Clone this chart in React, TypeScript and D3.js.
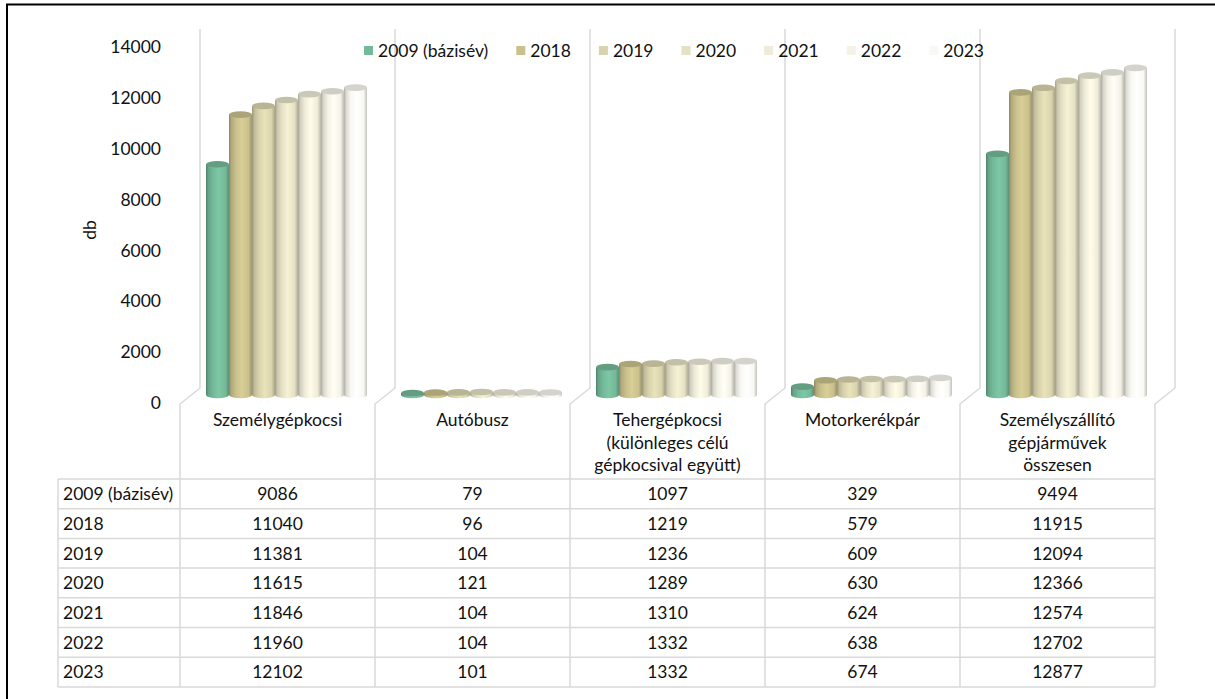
import React, { useEffect, useRef } from "react";
import * as d3 from "d3";

const categoryLabels: string[][] = [
  ["Személygépkocsi"],
  ["Autóbusz"],
  ["Tehergépkocsi", "(különleges célú", "gépkocsival együtt)"],
  ["Motorkerékpár"],
  ["Személyszállító", "gépjárművek", "összesen"],
];
const seriesNames = ["2009 (bázisév)", "2018", "2019", "2020", "2021", "2022", "2023"];
const v2009 = [9086, 79, 1097, 329, 9494];
const v2018 = [11040, 96, 1219, 579, 11915];
const v2019 = [11381, 104, 1236, 609, 12094];
const v2020 = [11615, 121, 1289, 630, 12366];
const v2021 = [11846, 104, 1310, 624, 12574];
const v2022 = [11960, 104, 1332, 638, 12702];
const v2023 = [12102, 101, 1332, 674, 12877];
const seriesValues = [v2009, v2018, v2019, v2020, v2021, v2022, v2023];
const seriesColors = ["#74b999", "#c9c08c", "#d9d3ad", "#e5e1c5", "#eeebd8", "#f4f2e6", "#f9f8f2"];
const yTicks = [0, 2000, 4000, 6000, 8000, 10000, 12000, 14000];
const yTitle = "db";

export default function App() {
  const ref = useRef<SVGSVGElement>(null);
  useEffect(() => {
    const svg = d3.select(ref.current!);
    svg.selectAll("*").remove();
    const W = 1215, H = 699;
    const font = "Lato, 'Open Sans', sans-serif";
    const fs = 17.5;
    const txt = "#111";
    const grid = "#d9d9d9";

    svg.append("rect").attr("width", W).attr("height", H).attr("fill", "#fff");
    svg.append("path").attr("d", `M7,${H} L7,4.5 L${W},4.5`).attr("stroke", "#000")
      .attr("stroke-width", 2).attr("fill", "none");

    const nCat = categoryLabels.length;
    const colX = d3.scaleBand<number>().domain(d3.range(nCat)).range([180, 1155]);
    const step = colX.step();
    const bounds = d3.range(nCat + 1).map((i) => 180 + i * step);
    const depth = 20, backFloorY = 388, frontFloorY = 404, wallTop = 29;
    const tableTop = 479, rowH = 29.7;
    const tableBottom = tableTop + rowH * seriesNames.length;

    bounds.forEach((fx) => {
      svg.append("path")
        .attr("d", `M${fx + depth},${wallTop} L${fx + depth},${backFloorY} L${fx},${frontFloorY} L${fx},${tableBottom}`)
        .attr("stroke", grid).attr("stroke-width", 1.5).attr("fill", "none");
    });

    for (let r = 0; r <= seriesNames.length; r++) {
      const y = tableTop + r * rowH;
      svg.append("line").attr("x1", 58).attr("x2", bounds[nCat]).attr("y1", y).attr("y2", y)
        .attr("stroke", grid).attr("stroke-width", 1.5);
    }
    svg.append("line").attr("x1", 58).attr("x2", 58).attr("y1", tableTop).attr("y2", tableBottom)
      .attr("stroke", grid).attr("stroke-width", 1.5);

    const defs = svg.append("defs");
    seriesColors.forEach((col, i) => {
      const c = d3.color(col)!;
      const g = defs.append("linearGradient").attr("id", `cyl${i}`).attr("x1", 0).attr("x2", 1).attr("y1", 0).attr("y2", 0);
      const stops: [number, string][] = [
        [0, c.darker(1.0).formatHex()],
        [0.1, c.darker(0.35).formatHex()],
        [0.3, c.formatHex()],
        [0.55, c.brighter(0.2).formatHex()],
        [0.85, c.formatHex()],
        [1, c.darker(0.7).formatHex()],
      ];
      stops.forEach(([o, s]) => g.append("stop").attr("offset", o).attr("stop-color", s));
    });

    const inner = d3.scaleBand<number>().domain(d3.range(seriesNames.length)).range([16, 177]);
    const yBar = d3.scaleLinear().domain([0, 14000]).range([395, 39.4]);
    const ry = 3.3;
    const barG = svg.append("g");
    for (let c = 0; c < nCat; c++) {
      seriesValues.forEach((vals, s) => {
        const x = colX(c)! + depth / 2 + inner(s)!;
        const w = inner.bandwidth();
        const yb = yBar(0);
        const yt = yBar(vals[c]);
        const rx = w / 2;
        barG.append("path")
          .attr("d", `M${x},${yt} L${x},${yb} A${rx},${ry} 0 0 0 ${x + w},${yb} L${x + w},${yt} Z`)
          .attr("fill", `url(#cyl${s})`);
        const col = d3.color(seriesColors[s])!;
        barG.append("ellipse").attr("cx", x + rx).attr("cy", yt).attr("rx", rx).attr("ry", ry)
          .attr("fill", col.darker(0.45).formatHex());
      });
    }

    const yAxis = d3.scaleLinear().domain([0, 14000]).range([403, 47]);
    yTicks.forEach((t) => {
      svg.append("text").attr("x", 161).attr("y", yAxis(t)).attr("dy", "0.35em")
        .attr("text-anchor", "end").attr("font-family", font).attr("font-size", fs).attr("fill", txt).text(String(t));
    });
    svg.append("text").attr("transform", `translate(90,230) rotate(-90)`).attr("dy", "0.35em")
      .attr("text-anchor", "middle").attr("font-family", font).attr("font-size", fs).attr("fill", txt).text(yTitle);

    categoryLabels.forEach((lines, i) => {
      const cx = colX(i)! + step / 2;
      lines.forEach((l, j) => {
        svg.append("text").attr("x", cx).attr("y", 426 + j * 22.5).attr("text-anchor", "middle")
          .attr("font-family", font).attr("font-size", fs).attr("fill", txt).text(l);
      });
    });

    seriesNames.forEach((name, r) => {
      const cy = tableTop + rowH * (r + 0.5);
      svg.append("text").attr("x", 63).attr("y", cy).attr("dy", "0.36em")
        .attr("font-family", font).attr("font-size", fs).attr("fill", txt).text(name);
      seriesValues[r].forEach((v, c) => {
        svg.append("text").attr("x", colX(c)! + step / 2).attr("y", cy).attr("dy", "0.36em")
          .attr("text-anchor", "middle").attr("font-family", font).attr("font-size", fs).attr("fill", txt).text(String(v));
      });
    });

    let lx = 364;
    seriesNames.forEach((name, i) => {
      svg.append("rect").attr("x", lx).attr("y", 46).attr("width", 9).attr("height", 9).attr("fill", seriesColors[i]);
      const t = svg.append("text").attr("x", lx + 14).attr("y", 50.5).attr("dy", "0.36em")
        .attr("font-family", font).attr("font-size", fs).attr("fill", txt).text(name);
      const tw = (t.node() as SVGTextElement).getComputedTextLength();
      lx += 14 + tw + 28;
    });
  }, []);

  return (
    <svg ref={ref} width={1215} height={699}
      style={{ position: "absolute", left: 0, top: 0, display: "block" }} />
  );
}
